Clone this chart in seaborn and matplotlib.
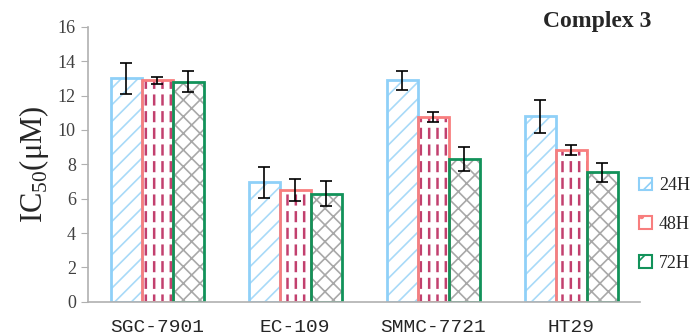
import matplotlib
matplotlib.use("Agg")
import pandas as pd
import matplotlib.pyplot as plt
import seaborn as sns
from matplotlib.patches import Patch

cells = ["SGC-7901", "EC-109", "SMMC-7721", "HT29"]
times = ["24H", "48H", "72H"]
ic24 = [13.0, 6.95, 12.9, 10.8]
ic48 = [12.9, 6.5, 10.75, 8.85]
ic72 = [12.8, 6.3, 8.3, 7.55]
sd24 = [0.9, 0.9, 0.55, 0.95]
sd48 = [0.2, 0.65, 0.3, 0.3]
sd72 = [0.6, 0.72, 0.7, 0.55]

edge_cols = ["#8fd0f8", "#f87e7e", "#12925a"]
hatch_cols = ["#a8daf8", "#c2406e", "#a8a8a8"]
hatches = ["//", "||", "xx"]

sns.set_style("white")
plt.rcParams["font.family"] = ["Liberation Serif", "DejaVu Serif"]
plt.rcParams["mathtext.fontset"] = "custom"
plt.rcParams["mathtext.rm"] = "Liberation Serif"
plt.rcParams["hatch.linewidth"] = 1.2

df = pd.DataFrame({
    "cell": cells * 3,
    "time": [t for t in times for _ in cells],
    "ic50": ic24 + ic48 + ic72,
})
sds = [sd24, sd48, sd72]
bar_kw = dict(data=df, x="cell", y="ic50", hue="time", hue_order=times,
              order=cells, width=0.675, errorbar=None, legend=False)

fig = plt.figure(figsize=(6.95, 3.35), dpi=100)
ax = fig.add_axes([0.127, 0.099, 0.794, 0.821])

# hatch layer
sns.barplot(**bar_kw, ax=ax, palette=["white"] * 3, linewidth=0)
for cont, h, hc in zip(ax.containers, hatches, hatch_cols):
    for p in cont:
        p.set_hatch(h)
        p.set_edgecolor(hc)
        p.set_linewidth(0)
        if hasattr(p, "set_hatch_linewidth"):
            p.set_hatch_linewidth(1.8 if h == "||" else 1.2)
n_hatch = len(ax.containers)

# white horizontal hatch to break the 48H lines into dashes
sns.barplot(**bar_kw, ax=ax, fill=False, palette=["white"] * 3, linewidth=0)
for i, cont in enumerate(ax.containers[n_hatch:]):
    for p in cont:
        if i != 1:
            p.set_visible(False)
        else:
            p.set_hatch("-")
            p.set_edgecolor("white")
            p.set_linewidth(0)
            if hasattr(p, "set_hatch_linewidth"):
                p.set_hatch_linewidth(4)

# outline layer
sns.barplot(**bar_kw, ax=ax, fill=False, palette=edge_cols, linewidth=2)

for cont, sd in zip(ax.containers[:n_hatch], sds):
    xs = [p.get_x() + p.get_width() / 2 for p in cont]
    ys = [p.get_height() for p in cont]
    ax.errorbar(xs, ys, yerr=sd, fmt="none", ecolor="black",
                elinewidth=1.2, capsize=4, capthick=1.2, zorder=5)

ax.set_ylim(0, 16)
ax.set_xlim(-0.5, 3.5)
ax.set_yticks(range(0, 17, 2))
ax.set_xlabel("")
ax.set_ylabel(r"IC$_{\rm 50}$(μM)", fontsize=22, labelpad=5)
ax.tick_params(axis="y", left=True, length=5, color="#b0b0b0",
               labelsize=13, labelcolor="#404040", pad=4)
ax.tick_params(axis="x", bottom=False, labelsize=14, pad=9)
for lab in ax.get_xticklabels():
    lab.set_family(["Liberation Mono", "DejaVu Sans Mono"])
for s in ["top", "right"]:
    ax.spines[s].set_visible(False)
for s in ["left", "bottom"]:
    ax.spines[s].set_color("#b0b0b0")
    ax.spines[s].set_linewidth(1.2)

handles = [Patch(facecolor="white", edgecolor=c, hatch=h, linewidth=1.5)
           for c, h in zip(edge_cols, ["/", ".", "/"])]
fig.legend(handles, times, loc="center left", bbox_to_anchor=(0.914, 0.33),
           frameon=False, fontsize=13, handlelength=0.72, handleheight=0.72,
           handletextpad=0.4, labelspacing=1.2, borderaxespad=0,
           borderpad=0.2)

fig.text(0.937, 0.935, "Complex 3", ha="right", va="center",
         fontsize=17, fontweight="bold")

fig.savefig("out.png", dpi=100)
